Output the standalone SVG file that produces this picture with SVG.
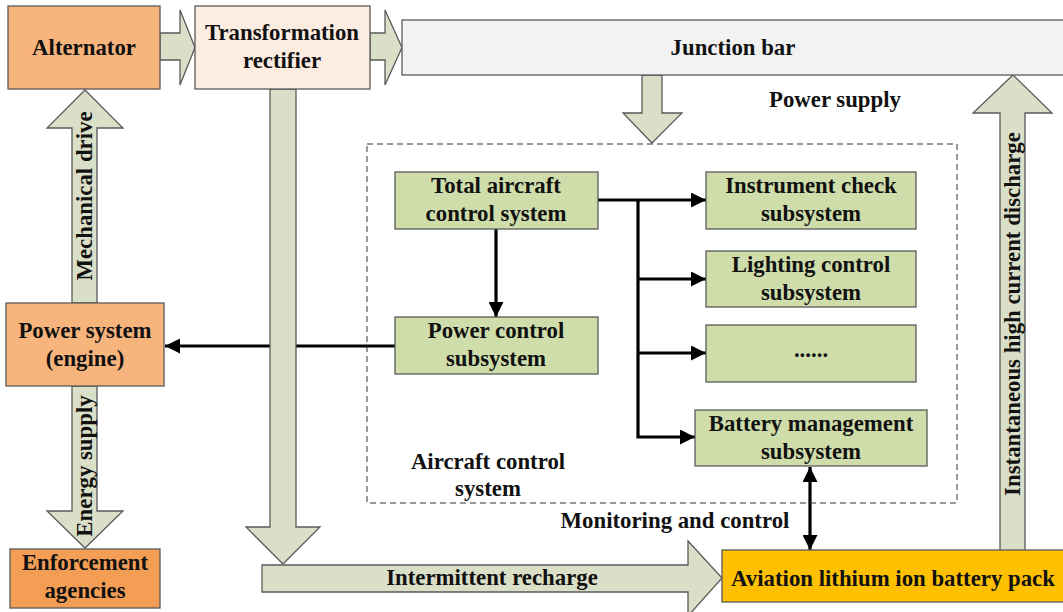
<svg xmlns="http://www.w3.org/2000/svg" width="1063" height="612" viewBox="0 0 1063 612">
<style>
text{font-family:"Liberation Serif","Times New Roman",serif;font-weight:bold;font-size:22.8px;fill:#111;text-anchor:middle}
.box{stroke:#5a5a5a;stroke-width:1.3}
.or{fill:#F8B47D}
.or2{fill:#F49D55}
.gr{fill:#CFDDAB}
.blk{fill:#DADFC8;stroke:#5a5a5a;stroke-width:1.3}
.ln{fill:none;stroke:#000;stroke-width:3.2}
</style>
<defs>
<marker id="ah" viewBox="0 0 10 10" refX="10" refY="5" markerWidth="15" markerHeight="15" markerUnits="userSpaceOnUse" orient="auto-start-reverse">
<path d="M0,0 L10,5 L0,10 Z" fill="#000"/>
</marker>
</defs>
<rect width="1063" height="612" fill="#fff"/>
<g id="connectors">
<line class="ln" x1="395" y1="346" x2="165" y2="346" marker-end="url(#ah)"/>
<polyline class="ln" points="598,200 706,200" marker-end="url(#ah)"/>
<polyline class="ln" points="638,200 638,437 695,437" marker-end="url(#ah)"/>
<line class="ln" x1="638" y1="279" x2="706" y2="279" marker-end="url(#ah)"/>
<line class="ln" x1="638" y1="353" x2="706" y2="353" marker-end="url(#ah)"/>
<line class="ln" x1="496" y1="229" x2="496" y2="317" marker-end="url(#ah)"/>
<line class="ln" x1="810" y1="467" x2="810" y2="550" marker-start="url(#ah)" marker-end="url(#ah)"/>
<polygon class="blk" points="160,33 180,33 180,10 195,47.5 180,85 180,60 160,60"/>
<polygon class="blk" points="370,33 385,33 385,10 402,47.5 385,85 385,60 370,60"/>
<polygon class="blk" points="642,75 662,75 662,113 682,113 652,143 623,113 642,113"/>
<polygon class="blk" points="1000,553 1000,113 973,113 1013,75 1052,113 1025,113 1025,553"/>
<polygon class="blk" points="262,565 688,565 688,541 722,578 688,616 688,592 262,592"/>
<polygon class="blk" points="270,89 296,89 296,527 320,527 283,564 246,527 270,527"/>
<polygon class="blk" points="72,303 72,128 47,128 85,90 123,128 97,128 97,303"/>
<polygon class="blk" points="72,386 97,386 97,511 123,511 85,548 47,511 72,511"/>
<text transform="translate(92,196) rotate(-90)">Mechanical drive</text>
<text transform="translate(92,466) rotate(-90)">Energy supply</text>
<text transform="translate(1020,314) rotate(-90)">Instantaneous high current discharge</text>
<text x="769" y="107" style="text-anchor:start">Power supply</text>
<text x="675" y="528">Monitoring and control</text>
<text x="492" y="585">Intermittent recharge</text>
</g>
<g id="aircraft-control-system">
<rect x="367" y="144" width="590" height="359" fill="none" stroke="#333" stroke-width="1" stroke-dasharray="6 4"/>
<text x="488" y="469">Aircraft control</text>
<text x="488" y="496">system</text>
</g>
<g id="alternator">
<rect class="box or" x="8" y="6" width="152" height="83"/>
<text x="84" y="55">Alternator</text>
</g>
<g id="transformation-rectifier">
<rect class="box" fill="#FDEDE1" x="195" y="6" width="175" height="83"/>
<text x="282" y="40">Transformation</text>
<text x="282" y="68">rectifier</text>
</g>
<g id="junction-bar">
<rect class="box" fill="#F2F2F2" x="402" y="20" width="670" height="55"/>
<text x="733" y="55">Junction bar</text>
</g>
<g id="power-system">
<rect class="box or" x="6" y="303" width="158" height="83"/>
<text x="85" y="338">Power system</text>
<text x="85" y="366">(engine)</text>
</g>
<g id="enforcement-agencies">
<rect class="box or2" x="10" y="549" width="150" height="59"/>
<text x="85" y="570">Enforcement</text>
<text x="85" y="598">agencies</text>
</g>
<g id="total-aircraft-control">
<rect class="box gr" x="395" y="172" width="203" height="57"/>
<text x="496" y="193">Total aircraft</text>
<text x="496" y="221">control system</text>
</g>
<g id="power-control">
<rect class="box gr" x="395" y="317" width="203" height="57"/>
<text x="496" y="338">Power control</text>
<text x="496" y="366">subsystem</text>
</g>
<g id="instrument-check">
<rect class="box gr" x="706" y="172" width="210" height="57"/>
<text x="811" y="193">Instrument check</text>
<text x="811" y="221">subsystem</text>
</g>
<g id="lighting-control">
<rect class="box gr" x="706" y="251" width="210" height="56"/>
<text x="811" y="272">Lighting control</text>
<text x="811" y="300">subsystem</text>
</g>
<g id="other-subsystems">
<rect class="box gr" x="706" y="325" width="210" height="57"/>
<text x="811" y="357">......</text>
</g>
<g id="battery-management">
<rect class="box gr" x="695" y="410" width="232" height="56"/>
<text x="811" y="431">Battery management</text>
<text x="811" y="459">subsystem</text>
</g>
<g id="battery-pack">
<rect class="box" fill="#FFC000" x="722" y="550" width="350" height="52"/>
<text x="893" y="586">Aviation lithium ion battery pack</text>
</g>
</svg>
